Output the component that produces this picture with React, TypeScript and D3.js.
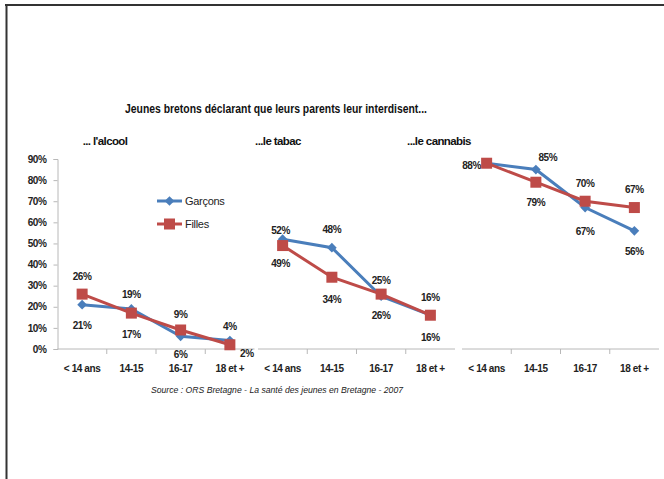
import * as d3 from 'd3'
import { useEffect, useRef } from 'react'

const CATEGORIES = ['< 14 ans', '14-15', '16-17', '18 et +']
const PANELS = ["... l'alcool", '...le tabac', '...le cannabis']
const SERIES = ['Garçons', 'Filles']
const Y_TICKS = [0, 10, 20, 30, 40, 50, 60, 70, 80, 90]

// values in % per panel (alcool, tabac, cannabis)
const GARCONS = [
  [21, 19, 6, 4],
  [52, 48, 25, 16],
  [88, 85, 67, 56],
]
const FILLES = [
  [26, 17, 9, 2],
  [49, 34, 26, 16],
  [88, 79, 70, 67],
]

const TITLE = 'Jeunes bretons déclarant que leurs parents leur interdisent...'
const SOURCE = 'Source : ORS Bretagne - La santé des jeunes en Bretagne - 2007'

// label offsets [dx, dy] from the point, null = hidden
type Off = [number, number] | null
const LABEL_G: Off[][] = [
  [[0, 21], [0, -14], [0, 18], [0, -14]],
  [[-2, -9], [0, -18], [0, -16], [0, -18]],
  [[-15, 2], [12, -12], [0, 24], [0, 21]],
]
const LABEL_F: Off[][] = [
  [[0, -18], [0, 21], [0, -16], [17, 9]],
  [[-2, 18], [0, 22], [0, 21], [0, 22]],
  [null, [0, 20], [0, -18], [0, -18]],
]

const BLUE = '#4a7ebb'
const RED = '#be4b48'
const FONT = '"Liberation Sans", Arial, sans-serif'

export default function App() {
  const ref = useRef<HTMLDivElement>(null)

  useEffect(() => {
    const width = 664
    const height = 479
    const yTop = 159
    const yBottom = 349
    const panelX = [57.5, 258, 462]
    const panelW = 197

    const y = d3.scaleLinear().domain([0, 90]).range([yBottom, yTop])

    const svg = d3
      .create('svg')
      .attr('width', width)
      .attr('height', height)
      .attr('viewBox', [0, 0, width, height])
      .style('font-family', FONT)
      .style('background', '#fff')

    // frame
    svg.append('line').attr('x1', 5).attr('x2', width).attr('y1', 5).attr('y2', 5)
      .attr('stroke', '#333').attr('stroke-width', 2)
    svg.append('line').attr('x1', 6.5).attr('x2', 6.5).attr('y1', 4).attr('y2', height)
      .attr('stroke', '#333').attr('stroke-width', 2)

    svg.append('text')
      .attr('x', 276).attr('y', 113)
      .attr('text-anchor', 'middle')
      .attr('font-size', 12.5).attr('font-weight', 'bold').attr('fill', '#111')
      .attr('textLength', 302).attr('lengthAdjust', 'spacingAndGlyphs')
      .text(TITLE)

    // y axis (first panel only)
    svg.append('g')
      .attr('transform', `translate(${panelX[0]},0)`)
      .call(d3.axisLeft(y).tickValues(Y_TICKS).tickSize(4).tickFormat((d) => `${d}%`))
      .call((g) => g.selectAll('path,line').attr('stroke', '#b8b8b8'))
      .call((g) => g.selectAll('text').attr('font-size', 10).attr('font-weight', 'bold')
        .attr('fill', '#222').attr('font-family', FONT).attr('letter-spacing', -0.4).attr('dx', -4))

    PANELS.forEach((title, p) => {
      const x = d3.scaleBand().domain(CATEGORIES).range([panelX[p], panelX[p] + panelW])
      const cx = (c: string) => (x(c) as number) + x.bandwidth() / 2

      svg.append('text')
        .attr('x', [105, 278, 439][p]).attr('y', 145)
        .attr('text-anchor', 'middle')
        .attr('font-size', 11.5).attr('font-weight', 'bold').attr('letter-spacing', -0.6)
        .attr('fill', '#111')
        .text(title)

      const xAxis = svg.append('g').attr('transform', `translate(0,${yBottom})`)
      xAxis.append('line')
        .attr('x1', panelX[p]).attr('x2', panelX[p] + panelW)
        .attr('stroke', '#b8b8b8')
      xAxis.selectAll('line.tick')
        .data(CATEGORIES.slice(1))
        .join('line')
        .attr('class', 'tick')
        .attr('x1', (d) => x(d) as number).attr('x2', (d) => x(d) as number)
        .attr('y1', 0).attr('y2', 5)
        .attr('stroke', '#b8b8b8')
      xAxis.selectAll('text')
        .data(CATEGORIES)
        .join('text')
        .attr('x', cx).attr('y', 23)
        .attr('text-anchor', 'middle')
        .attr('font-size', 10).attr('font-weight', 'bold').attr('fill', '#222')
        .attr('letter-spacing', -0.4)
        .text((d) => d)

      const seriesData = [GARCONS[p], FILLES[p]]
      const colors = [BLUE, RED]
      const offs = [LABEL_G[p], LABEL_F[p]]

      seriesData.forEach((vals, s) => {
        const pts = vals.map((v, i) => [cx(CATEGORIES[i]), y(v)] as [number, number])
        svg.append('path')
          .attr('d', d3.line()(pts))
          .attr('fill', 'none')
          .attr('stroke', colors[s])
          .attr('stroke-width', 3)
        if (s === 0) {
          svg.append('g').selectAll('path')
            .data(pts).join('path')
            .attr('d', d3.symbol(d3.symbolDiamond2, 60)() as string)
            .attr('transform', (d) => `translate(${d[0]},${d[1]})`)
            .attr('fill', BLUE)
        } else {
          svg.append('g').selectAll('rect')
            .data(pts).join('rect')
            .attr('x', (d) => d[0] - 5.5).attr('y', (d) => d[1] - 5.5)
            .attr('width', 11).attr('height', 11)
            .attr('fill', RED)
        }
        svg.append('g').selectAll('text')
          .data(vals.map((v, i) => ({ v, pt: pts[i], o: offs[s][i] })).filter((d) => d.o))
          .join('text')
          .attr('x', (d) => d.pt[0] + (d.o as [number, number])[0])
          .attr('y', (d) => d.pt[1] + (d.o as [number, number])[1])
          .attr('dy', '0.35em')
          .attr('text-anchor', 'middle')
          .attr('font-size', 10).attr('font-weight', 'bold').attr('fill', '#222')
          .attr('letter-spacing', -0.4)
          .text((d) => `${d.v}%`)
      })
    })

    // legend
    const lg = svg.append('g')
    SERIES.forEach((name, s) => {
      const ly = 201 + s * 23
      lg.append('line').attr('x1', 157).attr('x2', 182).attr('y1', ly).attr('y2', ly)
        .attr('stroke', s === 0 ? BLUE : RED).attr('stroke-width', 3)
      if (s === 0) {
        lg.append('path').attr('d', d3.symbol(d3.symbolDiamond2, 60)() as string)
          .attr('transform', `translate(169.5,${ly})`).attr('fill', BLUE)
      } else {
        lg.append('rect').attr('x', 164).attr('y', ly - 5.5).attr('width', 11).attr('height', 11)
          .attr('fill', RED)
      }
      lg.append('text').attr('x', 185).attr('y', ly).attr('dy', '0.35em')
        .attr('font-size', 11).attr('letter-spacing', -0.3)
        .attr('fill', '#222')
        .text(name)
    })

    svg.append('text')
      .attr('x', 277).attr('y', 393)
      .attr('text-anchor', 'middle')
      .attr('font-size', 9.5).attr('font-style', 'italic').attr('fill', '#222')
      .attr('textLength', 252).attr('lengthAdjust', 'spacingAndGlyphs')
      .text(SOURCE)

    const node = svg.node()
    if (ref.current && node) {
      ref.current.innerHTML = ''
      ref.current.appendChild(node)
    }
  }, [])

  return <div ref={ref} style={{ position: 'absolute', left: 0, top: 0 }} />
}
